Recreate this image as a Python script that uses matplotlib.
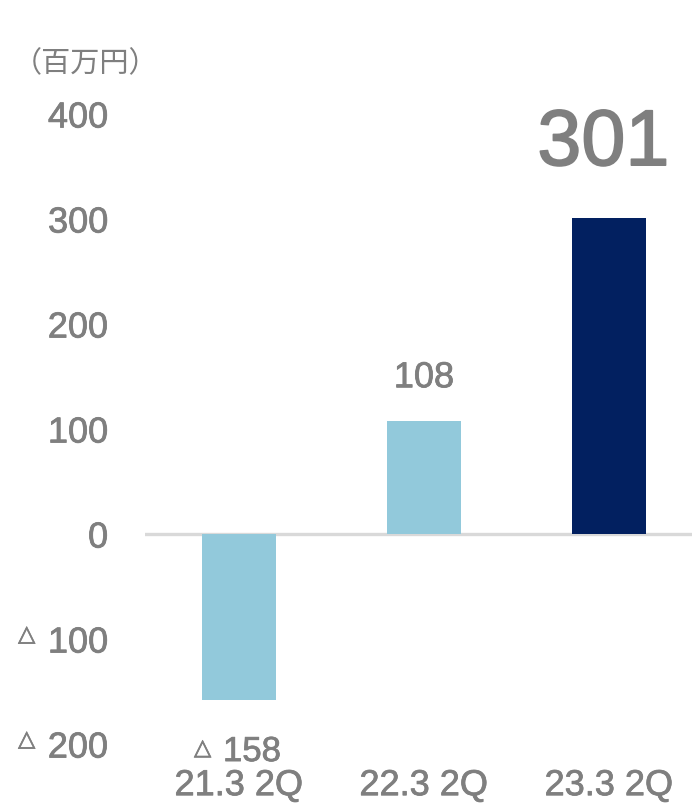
import numpy as np
import matplotlib
matplotlib.use('Agg')
import matplotlib.pyplot as plt
import matplotlib.patheffects as pe

plt.rcParams['font.family'] = ['Liberation Sans', 'DejaVu Sans']

periods = ['21.3 2Q', '22.3 2Q', '23.3 2Q']
values = [-158, 108, 301]
colors = ['#92c9db', '#92c9db', '#022060']
yticks = [-200, -100, 0, 100, 200, 300, 400]
unit = '（百万円）'
gray = '#7f7f7f'
heavy = [pe.withStroke(linewidth=0.55, foreground=gray)]

fig = plt.figure(figsize=(6.92, 8.12), dpi=100)
ax = fig.add_axes([145/692, 47/812, 547/692, 765/812])
x = np.arange(len(periods))
ax.bar(x, values, width=0.4, color=colors, zorder=2)
ax.axhline(0, color='#d9d9d9', lw=2.4, zorder=1)
ax.set_xlim(-0.508, 2.449)
ax.set_ylim(-219, 509.5)

for s in ax.spines.values():
    s.set_visible(False)
ax.set_yticks(yticks)
ax.set_yticklabels([str(abs(v)) for v in yticks], fontsize=26, color=gray)
ax.tick_params(axis='y', length=0, pad=26.6)
ax.set_xticks(x)
ax.set_xticklabels(periods, fontsize=26, color=gray)
ax.tick_params(axis='x', length=0, pad=3)
for t in ax.get_yticklabels() + ax.get_xticklabels():
    t.set_path_effects(heavy)
for t in ax.get_yticklabels():
    t.set_verticalalignment('center_baseline')

# triangle marks for negative ticks
for v in yticks:
    if v < 0:
        ax.annotate('△', xy=(0, v), xycoords=('axes fraction', 'data'),
                    xytext=(-79, 3), textcoords='offset points',
                    ha='right', va='center', fontsize=16, color=gray,
                    family='DejaVu Sans', path_effects=heavy)

# value labels
for xi, v in zip(x, values):
    if v < 0:
        ax.annotate(str(abs(v)), xy=(xi, v), xytext=(-11.5, -44),
                    textcoords='offset points', ha='left', va='baseline',
                    fontsize=25, color=gray, path_effects=heavy)
        ax.annotate('△', xy=(xi, v), xytext=(-20, -35),
                    textcoords='offset points', ha='right', va='center',
                    fontsize=16, color=gray, family='DejaVu Sans',
                    path_effects=heavy)
    elif v == max(values):
        ax.annotate(str(v), xy=(xi, v), xytext=(-4, 38),
                    textcoords='offset points', ha='center', va='baseline',
                    fontsize=57, color=gray,
                    path_effects=[pe.withStroke(linewidth=1.2, foreground=gray)])
    else:
        ax.annotate(str(v), xy=(xi, v), xytext=(0, 24),
                    textcoords='offset points', ha='center', va='baseline',
                    fontsize=26, color=gray, path_effects=heavy)

fig.text(13/692, 1 - 64/812, unit, fontsize=21, color=gray, va='center',
         ha='left', family=['Noto Sans CJK JP', 'DejaVu Sans'])

fig.savefig('out.png', dpi=100, facecolor='white')
